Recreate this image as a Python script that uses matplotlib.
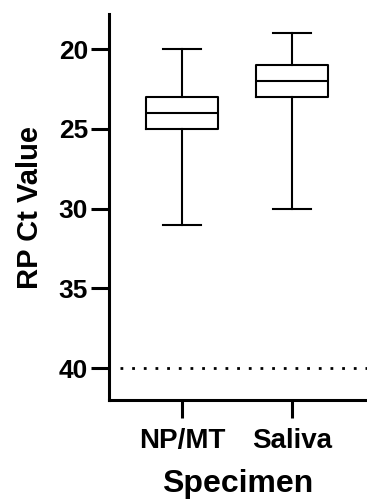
import matplotlib
matplotlib.use("Agg")
import matplotlib.pyplot as plt

# -----------------------------
# DATA
# -----------------------------
specimens = ["NP/MT", "Saliva"]
ct_min = [31, 30]
ct_q1 = [25, 23]
ct_median = [24, 22]
ct_q3 = [23, 21]
ct_max = [20, 19]
cutoff = 40
y_ticks = [20, 25, 30, 35, 40]

plt.rcParams["font.family"] = ["Liberation Sans", "DejaVu Sans"]
plt.rcParams["font.weight"] = "bold"

stats = []
for name, lo, q1, med, q3, hi in zip(specimens, ct_min, ct_q1, ct_median, ct_q3, ct_max):
    stats.append({"label": name, "whislo": lo, "q1": q1, "med": med,
                  "q3": q3, "whishi": hi, "fliers": []})

fig = plt.figure(figsize=(3.67, 5.04), dpi=100)
ax = fig.add_axes([0.297, 0.2063, 0.703, 0.7657])

lw = 1.5
ax.bxp(stats, positions=[1, 2], widths=0.655, capwidths=0.345,
       showfliers=False, patch_artist=False,
       boxprops=dict(color="black", linewidth=lw),
       medianprops=dict(color="black", linewidth=lw),
       whiskerprops=dict(color="black", linewidth=lw),
       capprops=dict(color="black", linewidth=lw))

# detection cutoff
ax.axhline(cutoff, xmin=0.043, xmax=1.0, color="black", linewidth=2.0,
           linestyle=(0, (1, 3.2)))

ax.set_xlim(0.336, 2.68)
ax.set_ylim(42, 17.8)
ax.set_yticks(y_ticks)
ax.set_xticks([1, 2])
ax.set_xticklabels(specimens)

for s in ["top", "right"]:
    ax.spines[s].set_visible(False)
for s in ["left", "bottom"]:
    ax.spines[s].set_linewidth(2.2)

ax.tick_params(axis="y", length=13, width=2.2, pad=2, labelsize=19)
ax.tick_params(axis="x", length=13, width=2.2, pad=7, labelsize=20)
for lab in ax.get_xticklabels() + ax.get_yticklabels():
    lab.set_fontweight("bold")

ax.set_ylabel("RP Ct Value", fontsize=21, fontweight="bold", labelpad=11)
ax.set_xlabel("Specimen", fontsize=23, fontweight="bold", labelpad=11)

fig.savefig("out.png", dpi=100)
